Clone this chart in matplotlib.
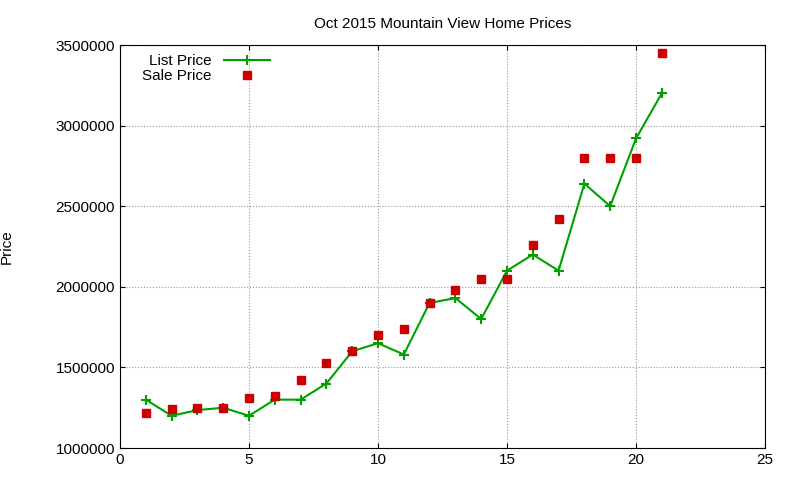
import matplotlib
matplotlib.use("Agg")
import matplotlib.pyplot as plt

months = list(range(1, 22))
list_price = [1300000, 1200000, 1235000, 1250000, 1200000, 1300000, 1300000, 1400000,
              1600000, 1650000, 1580000, 1900000, 1930000, 1800000, 2100000, 2200000,
              2100000, 2640000, 2500000, 2920000, 3200000]
sale_price = [1220000, 1240000, 1250000, 1250000, 1310000, 1320000, 1420000, 1530000,
              1600000, 1700000, 1740000, 1900000, 1980000, 2050000, 2050000, 2260000,
              2420000, 2800000, 2800000, 2800000, 3450000]

plt.rcParams['font.family'] = ['Liberation Sans', 'DejaVu Sans']
fig = plt.figure(figsize=(8, 4.8), dpi=100)
ax = fig.add_axes([120/800, 32/480, 645/800, 403/480])

ax.plot(months, list_price, color='#00a000', marker='+', markersize=7, mew=1.5,
        linewidth=1.5, label='List Price')
ax.plot(months, sale_price, linestyle='none', marker='s', markersize=5.5,
        color='#cc0000', label='Sale Price')

ax.set_xlim(0, 25)
ax.set_ylim(1000000, 3500000)
ax.set_xticks(range(0, 26, 5))
ax.set_yticks(range(1000000, 3500001, 500000))
ax.ticklabel_format(style='plain', axis='y')
ax.grid(True, color='#999999', linestyle=':', linewidth=0.8)
ax.tick_params(direction='in', labelsize=11, top=True, right=True)
ax.set_title('Oct 2015 Mountain View Home Prices', fontsize=11, pad=12)
ax.set_ylabel('Price', fontsize=11)
ax.yaxis.set_label_coords(-0.165, 0.5)
ax.legend(loc='upper left', bbox_to_anchor=(0.02, 1.0), frameon=False, markerfirst=False,
          fontsize=11, handlelength=3.0, labelspacing=0.05, borderaxespad=0.2)

fig.savefig('out.png')
